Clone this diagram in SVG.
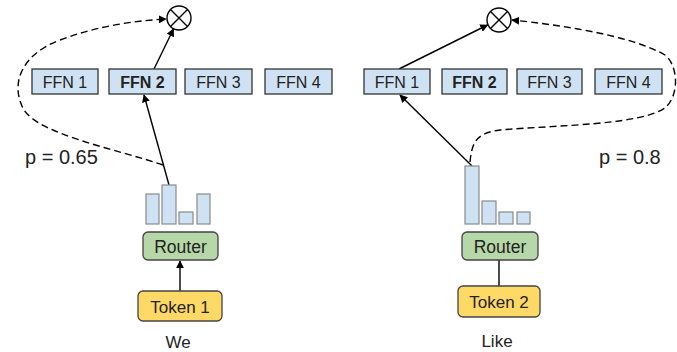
<svg xmlns="http://www.w3.org/2000/svg" width="677" height="352" viewBox="0 0 677 352">
<defs>
<marker id="ah" viewBox="0 0 10 10" refX="9" refY="5" markerWidth="8" markerHeight="8" orient="auto-start-reverse" markerUnits="userSpaceOnUse">
<path d="M0,0 L10,5 L0,10 z" fill="#000"/>
</marker>
<style>
text{font-family:"Liberation Sans",Arial,sans-serif;fill:#222}
.ffn{fill:#cfe2f3;stroke:#333;stroke-width:1.3}
.bar{fill:#cfe2f3;stroke:#8a8a8a;stroke-width:1.2}
.router{fill:#b6d7a8;stroke:#444;stroke-width:1.3}
.token{fill:#ffd966;stroke:#444;stroke-width:1.3}
.lbl{font-size:16px;text-anchor:middle}
.solid{stroke:#000;stroke-width:1.4;fill:none}
.dash{stroke:#000;stroke-width:1.4;fill:none;stroke-dasharray:7 4}
.mul{fill:#fff;stroke:#000;stroke-width:1.4}
</style>
</defs>
<rect width="677" height="352" fill="#fff"/>

<g id="connectors">
<path class="solid" d="M169,185 L144,95" marker-end="url(#ah)"/>
<path class="solid" d="M154,69 L173.5,29" marker-end="url(#ah)"/>
<path class="solid" d="M180,291 L180,261" marker-end="url(#ah)"/>
<path class="dash" d="M163,165 C120,150 40,135 24,110 C10,85 20,55 60,40 C95,27 130,21 166,19" marker-end="url(#ah)"/>
<path class="solid" d="M472,166 L400,95" marker-end="url(#ah)"/>
<path class="solid" d="M399,69 L487.5,25" marker-end="url(#ah)"/>
<path class="solid" d="M499,286 L499,260"/>
<path class="dash" d="M470,162 C472,140 478,133 500,130 C560,125 640,125 665,108 C680,95 678,65 665,55 C630,35 560,25 512,20" marker-end="url(#ah)"/>
</g>

<g id="mul-left">
<circle class="mul" cx="179" cy="18" r="12"/>
<path class="solid" d="M170.5,9.5 L187.5,26.5 M187.5,9.5 L170.5,26.5"/>
</g>
<g id="mul-right">
<circle class="mul" cx="499" cy="20" r="12"/>
<path class="solid" d="M490.5,11.5 L507.5,28.5 M507.5,11.5 L490.5,28.5"/>
</g>

<g id="ffn1-left"><rect class="ffn" x="32" y="69" width="66" height="25"/><text class="lbl" x="65" y="87.5">FFN 1</text></g>
<g id="ffn2-left"><rect class="ffn" x="109" y="69" width="67" height="25"/><text class="lbl" x="142.5" y="87.5" font-weight="bold">FFN 2</text></g>
<g id="ffn3-left"><rect class="ffn" x="185" y="69" width="67" height="25"/><text class="lbl" x="218.5" y="87.5">FFN 3</text></g>
<g id="ffn4-left"><rect class="ffn" x="265" y="69" width="67" height="25"/><text class="lbl" x="298.5" y="87.5">FFN 4</text></g>

<g id="ffn1-right"><rect class="ffn" x="364" y="69" width="66" height="25"/><text class="lbl" x="397" y="87.5">FFN 1</text></g>
<g id="ffn2-right"><rect class="ffn" x="442" y="69" width="65" height="25"/><text class="lbl" x="474.5" y="87.5" font-weight="bold">FFN 2</text></g>
<g id="ffn3-right"><rect class="ffn" x="517" y="69" width="65" height="25"/><text class="lbl" x="549.5" y="87.5">FFN 3</text></g>
<g id="ffn4-right"><rect class="ffn" x="595" y="69" width="67" height="25"/><text class="lbl" x="628.5" y="87.5">FFN 4</text></g>

<g id="bars-left">
<rect class="bar" x="146" y="194" width="13" height="30"/>
<rect class="bar" x="162" y="185" width="14" height="39"/>
<rect class="bar" x="179" y="212" width="14" height="12"/>
<rect class="bar" x="197" y="194" width="13" height="30"/>
</g>
<g id="bars-right">
<rect class="bar" x="465" y="166" width="14" height="58"/>
<rect class="bar" x="482" y="201" width="14" height="23"/>
<rect class="bar" x="499" y="212" width="14" height="12"/>
<rect class="bar" x="517" y="212" width="13" height="12"/>
</g>

<g id="router-left"><rect class="router" x="143" y="232" width="75" height="28" rx="5"/><text x="180.5" y="252.5" font-size="17.5" text-anchor="middle">Router</text></g>
<g id="router-right"><rect class="router" x="462" y="232" width="76" height="28" rx="5"/><text x="500" y="252.5" font-size="17.5" text-anchor="middle">Router</text></g>

<g id="token-left"><rect class="token" x="138" y="291" width="84" height="30" rx="5"/><text x="180" y="312.5" font-size="17" text-anchor="middle">Token 1</text></g>
<g id="token-right"><rect class="token" x="458" y="286" width="82" height="31" rx="5"/><text x="499" y="308" font-size="17" text-anchor="middle">Token 2</text></g>

<g id="labels">
<text x="25" y="164" font-size="20">p = 0.65</text>
<text x="599" y="164" font-size="20">p = 0.8</text>
<text x="178" y="348" font-size="17" text-anchor="middle">We</text>
<text x="497" y="347" font-size="17" text-anchor="middle">Like</text>
</g>
</svg>
